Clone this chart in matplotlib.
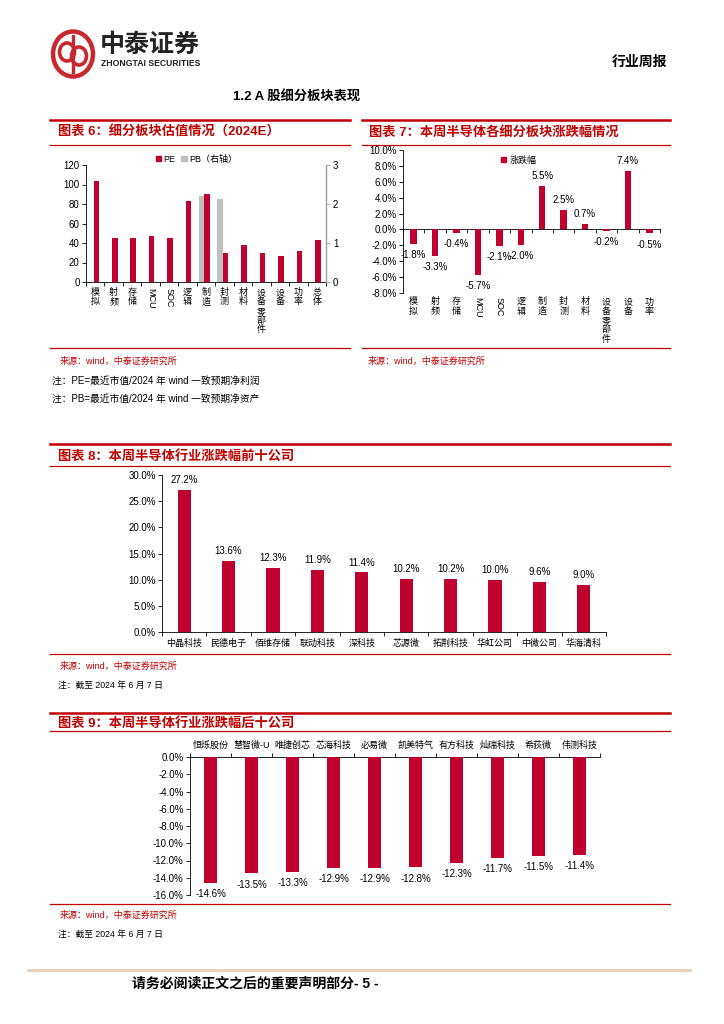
import numpy as np
import matplotlib.pyplot as plt
from matplotlib.lines import Line2D
from matplotlib.patches import Ellipse, Patch
import matplotlib.transforms as mtransforms

plt.rcParams['font.family'] = ['Liberation Sans', 'Noto Sans CJK SC']
plt.rcParams['axes.unicode_minus'] = False

# ---- data ----
sector_names = ['模拟', '射频', '存储', 'MCU', 'SOC', '逻辑', '制造', '封测', '材料',
                '设备零部件', '设备', '功率', '总体']
sector_pe = [103.6, 45.5, 44.8, 47.6, 45.5, 83.0, 90.6, 29.4, 38.3, 29.4, 27.0, 31.8, 43.0]
sector_pb = [np.nan, np.nan, np.nan, np.nan, np.nan, np.nan, 2.21, 2.12, np.nan,
             np.nan, np.nan, np.nan, np.nan]

week_sectors = ['模拟', '射频', '存储', 'MCU', 'SOC', '逻辑', '制造', '封测', '材料',
                '设备零部件', '设备', '功率']
week_change = [-1.8, -3.3, -0.4, -5.7, -2.1, -2.0, 5.5, 2.5, 0.7, -0.2, 7.4, -0.5]

top_names = ['中晶科技', '民德电子', '佰维存储', '联动科技', '深科技', '芯源微',
             '拓荆科技', '华虹公司', '中微公司', '华海清科']
top_change = [27.2, 13.6, 12.3, 11.9, 11.4, 10.2, 10.2, 10.0, 9.6, 9.0]

bottom_names = ['恒烁股份', '慧智微-U', '唯捷创芯', '芯海科技', '必易微', '凯美特气',
                '有方科技', '灿瑞科技', '希荻微', '伟测科技']
bottom_change = [-14.6, -13.5, -13.3, -12.9, -12.9, -12.8, -12.3, -11.7, -11.5, -11.4]

BAR = '#C0002F'
RED = '#C00000'
GREY = '#C0C0C0'
W, H = 724, 1024


def rect(l, t, r, b):
    return [l / W, 1 - b / H, (r - l) / W, (b - t) / H]


def hline(fig, x0, x1, y, color=RED, lw=1.0):
    fig.add_artist(Line2D([x0 / W, x1 / W], [1 - y / H, 1 - y / H],
                          transform=fig.transFigure, color=color, lw=lw))


def ftext(fig, x, y, s, **kw):
    kw.setdefault('va', 'center')
    fig.text(x / W, 1 - y / H, s, **kw)


def vlabel(s):
    if s.isascii():
        return s, -90
    return '\n'.join(s), 0


def style_axes(ax, n):
    for side in ['top', 'right']:
        ax.spines[side].set_visible(False)
    ax.set_xlim(-0.5, n - 0.5)
    ax.set_xticks(np.arange(n + 1) - 0.5, minor=True)
    ax.set_xticks([])
    ax.tick_params(axis='x', which='minor', length=3, width=0.6)
    ax.tick_params(axis='y', length=3, width=0.6, labelsize=7, pad=1.5)
    for sp in ax.spines.values():
        sp.set_linewidth(0.6)


def cat_labels(ax, names, dy):
    trans = mtransforms.blended_transform_factory(ax.transData, ax.transAxes)
    for i, name in enumerate(names):
        s, rot = vlabel(name)
        ax.text(i, dy, s, transform=trans, ha='center', va='top', rotation=rot,
                fontsize=6.5, linespacing=1.05)


fig = plt.figure(figsize=(W / 100, H / 100), dpi=100)

# ---- page header ----
logo = fig.add_axes(rect(50, 29, 96, 79))
logo.set_xlim(-1.15, 1.15)
logo.set_ylim(-1.25, 1.25)
logo.axis('off')
logo.add_patch(Ellipse((0, 0), 2.0, 2.25, fill=False, ec='#C8282D', lw=3.2))
logo.add_patch(Ellipse((-0.3, 0.1), 0.75, 0.9, fill=False, ec='#C8282D', lw=2.6))
logo.add_patch(Ellipse((0.3, -0.1), 0.75, 0.9, fill=False, ec='#C8282D', lw=2.6))
logo.plot([0, 0], [-0.9, 0.9], color='#C8282D', lw=2.4)

ftext(fig, 100, 45, '中泰证券', fontsize=18, weight='bold', color='#222222')
ftext(fig, 101, 64, 'ZHONGTAI SECURITIES', fontsize=6.2, weight='bold', color='#222222')
ftext(fig, 612, 62, '行业周报', fontsize=10, weight='bold')
ftext(fig, 233, 96, '1.2 A 股细分板块表现', fontsize=9.5, weight='bold')

# ---- section frames ----
for x0, x1 in [(50, 350), (362, 670)]:
    hline(fig, x0, x1, 120, lw=1.8)
    hline(fig, x0, x1, 145, lw=0.9)
    hline(fig, x0, x1, 348, lw=0.9)
ftext(fig, 58, 132, '图表 6：细分板块估值情况（2024E）', fontsize=9.5, weight='bold', color=RED)
ftext(fig, 369, 132, '图表 7：本周半导体各细分板块涨跌幅情况', fontsize=9.5, weight='bold', color=RED)
ftext(fig, 60, 361, '来源：wind，中泰证券研究所', fontsize=6.5, color=RED)
ftext(fig, 368, 361, '来源：wind，中泰证券研究所', fontsize=6.5, color=RED)
ftext(fig, 52, 381, '注：PE=最近市值/2024 年 wind 一致预期净利润', fontsize=7)
ftext(fig, 52, 399, '注：PB=最近市值/2024 年 wind 一致预期净资产', fontsize=7)

hline(fig, 50, 670, 444, lw=1.8)
hline(fig, 50, 670, 466, lw=0.9)
hline(fig, 50, 670, 654, lw=0.9)
ftext(fig, 58, 456, '图表 8：本周半导体行业涨跌幅前十公司', fontsize=9.5, weight='bold', color=RED)
ftext(fig, 60, 666, '来源：wind，中泰证券研究所', fontsize=6.5, color=RED)
ftext(fig, 58, 686, '注：截至 2024 年 6 月 7 日', fontsize=6.3)

hline(fig, 50, 670, 713, lw=1.8)
hline(fig, 50, 670, 731, lw=0.9)
hline(fig, 50, 670, 904, lw=0.9)
ftext(fig, 58, 723, '图表 9：本周半导体行业涨跌幅后十公司', fontsize=9.5, weight='bold', color=RED)
ftext(fig, 60, 915, '来源：wind，中泰证券研究所', fontsize=6.5, color=RED)
ftext(fig, 58, 935, '注：截至 2024 年 6 月 7 日', fontsize=6.3)

hline(fig, 28, 690, 970, color='#EACFBA', lw=2)
ftext(fig, 132, 984, '请务必阅读正文之后的重要声明部分- 5 -', fontsize=10, weight='bold')

# ---- chart 6: PE / PB ----
ax6 = fig.add_axes(rect(86, 165, 326, 282))
n6 = len(sector_names)
x6 = np.arange(n6)
ax6.bar(x6 + 0.06, sector_pe, width=0.3, color=BAR, zorder=3)
style_axes(ax6, n6)
ax6.set_ylim(0, 120)
ax6.set_yticks(np.arange(0, 121, 20))
cat_labels(ax6, sector_names, -0.05)
ax6r = ax6.twinx()
ax6r.bar(x6 - 0.25, sector_pb, width=0.3, color=GREY, zorder=2)
ax6r.set_ylim(0, 3)
ax6r.set_yticks([0, 1, 2, 3])
for side in ['top', 'left', 'bottom']:
    ax6r.spines[side].set_visible(False)
ax6r.spines['right'].set_color('#A0A0A0')
ax6r.spines['right'].set_linewidth(1.0)
ax6r.tick_params(axis='y', length=3, width=0.6, labelsize=7, pad=2, color='#A0A0A0')
ax6.legend(handles=[Patch(color=BAR, label='PE'), Patch(color=GREY, label='PB（右轴）')],
           loc='center', bbox_to_anchor=(0.46, 1.05), ncol=2, frameon=False,
           fontsize=6.5, handlelength=0.6, handleheight=0.6, handletextpad=0.3,
           columnspacing=0.6, borderpad=0)

# ---- chart 7: sector weekly change ----
ax7 = fig.add_axes(rect(403, 150, 660, 293))
n7 = len(week_sectors)
x7 = np.arange(n7)
ax7.bar(x7, week_change, width=0.3, color=BAR, zorder=3)
style_axes(ax7, n7)
ax7.spines['bottom'].set_position(('data', 0))
ax7.set_ylim(-8, 10)
ax7.set_yticks(np.arange(-8, 10.1, 2))
ax7.set_yticklabels([f'{v:.1f}%' for v in np.arange(-8, 10.1, 2)])
cat_labels(ax7, week_sectors, -0.03)
for xi, v in zip(x7, week_change):
    off = 7 if v >= 0 else -8
    ax7.annotate(f'{v:.1f}%', (xi, v), xytext=(0, off), textcoords='offset points',
                 ha='center', va='center', fontsize=7)
ax7.legend(handles=[Patch(color=BAR, label='涨跌幅')], loc='center',
           bbox_to_anchor=(0.45, 0.93), frameon=False, fontsize=6.5,
           handlelength=0.6, handleheight=0.6, handletextpad=0.4, borderpad=0)

# ---- chart 8: top ten ----
ax8 = fig.add_axes(rect(162, 475, 606, 632))
n8 = len(top_names)
x8 = np.arange(n8)
ax8.bar(x8, top_change, width=0.3, color=BAR, zorder=3)
style_axes(ax8, n8)
ax8.set_ylim(0, 30)
ax8.set_yticks(np.arange(0, 30.1, 5))
ax8.set_yticklabels([f'{v:.1f}%' for v in np.arange(0, 30.1, 5)])
ax8.set_xticks(x8)
ax8.set_xticklabels(top_names, fontsize=6.5)
ax8.tick_params(axis='x', which='major', length=0, pad=5)
for xi, v in zip(x8, top_change):
    ax8.annotate(f'{v:.1f}%', (xi, v), xytext=(0, 7), textcoords='offset points',
                 ha='center', va='center', fontsize=7)

# ---- chart 9: bottom ten ----
ax9 = fig.add_axes(rect(190, 757, 600, 895))
n9 = len(bottom_names)
x9 = np.arange(n9)
ax9.bar(x9, bottom_change, width=0.3, color=BAR, zorder=3)
style_axes(ax9, n9)
ax9.spines['top'].set_visible(True)
ax9.spines['top'].set_linewidth(0.6)
ax9.spines['bottom'].set_visible(False)
ax9.xaxis.tick_top()
ax9.tick_params(axis='x', which='minor', top=True, bottom=False, length=3, width=0.6)
ax9.set_ylim(-16, 0)
ax9.set_yticks(np.arange(-16, 0.1, 2))
ax9.set_yticklabels([f'{v:.1f}%' for v in np.arange(-16, 0.1, 2)])
ax9.set_xticks(x9)
ax9.set_xticklabels(bottom_names, fontsize=6.5)
ax9.tick_params(axis='x', which='major', length=0, pad=5, top=True, bottom=False)
for xi, v in zip(x9, bottom_change):
    ax9.annotate(f'{v:.1f}%', (xi, v), xytext=(0, -8), textcoords='offset points',
                 ha='center', va='center', fontsize=7)

fig.savefig('out.png', dpi=100)
